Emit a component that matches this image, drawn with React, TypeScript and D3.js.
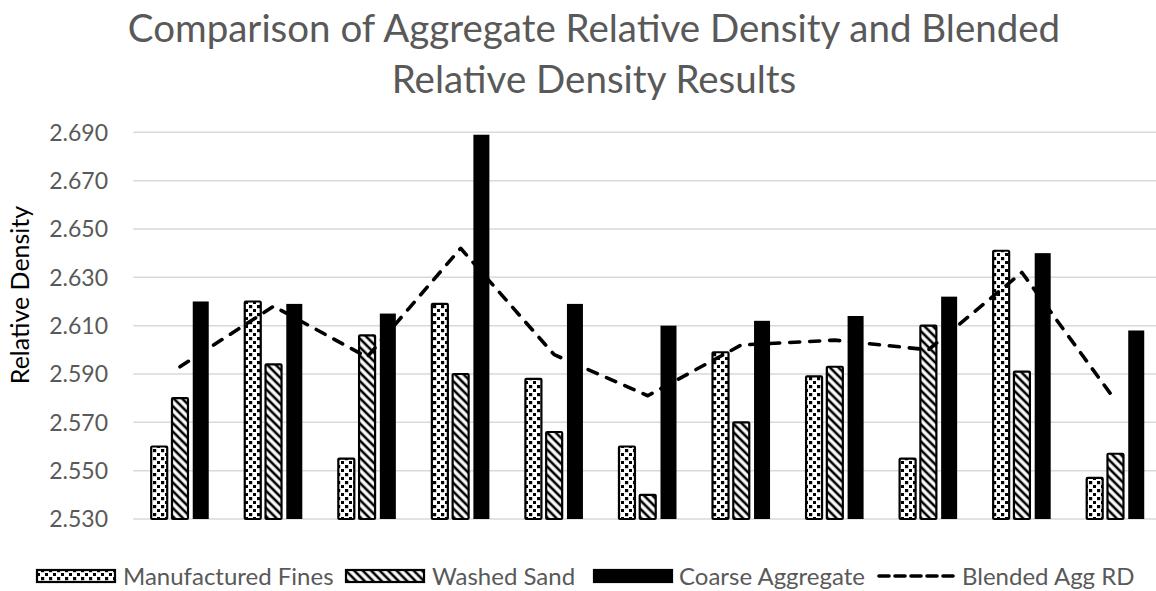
import React from "react";
import * as d3 from "d3";

const categories = ["1", "2", "3", "4", "5", "6", "7", "8", "9", "10", "11"];
const manufacturedFines = [2.560, 2.620, 2.555, 2.619, 2.588, 2.560, 2.599, 2.589, 2.555, 2.641, 2.547];
const washedSand = [2.580, 2.594, 2.606, 2.590, 2.566, 2.540, 2.570, 2.593, 2.610, 2.591, 2.557];
const coarseAggregate = [2.620, 2.619, 2.615, 2.689, 2.619, 2.610, 2.612, 2.614, 2.622, 2.640, 2.608];
const blendedAggRD = [2.593, 2.618, 2.597, 2.642, 2.598, 2.581, 2.602, 2.604, 2.600, 2.632, 2.579];
const yTicks = [2.53, 2.55, 2.57, 2.59, 2.61, 2.63, 2.65, 2.67, 2.69];
const seriesNames = ["Manufactured Fines", "Washed Sand", "Coarse Aggregate", "Blended Agg RD"];

const W = 1156;
const H = 591;
const FONT = "Lato, 'Open Sans', sans-serif";
const GRAY = "#595959";

export default function App() {
  const plotLeft = 133.2;
  const band = 93.55;
  const x = d3.scaleBand<string>().domain(categories).range([plotLeft, plotLeft + band * categories.length]).padding(0);
  const y = d3.scaleLinear().domain([2.53, 2.69]).range([519, 132.3]);
  const bw = x.bandwidth();
  const step = bw * 0.222;
  const barW = bw * 0.171;
  const cx = (c: string) => (x(c) as number) + bw / 2;

  const barSeries = [
    { vals: manufacturedFines, fill: "url(#patMF)", stroke: "#000" },
    { vals: washedSand, fill: "url(#patWS)", stroke: "#000" },
    { vals: coarseAggregate, fill: "#000", stroke: "none" },
  ];

  const line = d3
    .line<number>()
    .x((_, i) => cx(categories[i]))
    .y((d) => y(d));

  const fmt = d3.format(".3f");

  const legendItems = [
    { sx: 37, tx: 123, kind: "mf" },
    { sx: 346, tx: 432, kind: "ws" },
    { sx: 594, tx: 679, kind: "ca" },
    { sx: 877, tx: 962, kind: "line" },
  ];

  return (
    <svg
      width={W}
      height={H}
      style={{ position: "absolute", left: 0, top: 0, background: "#fff" }}
      fontFamily={FONT}
    >
      <defs>
        <pattern id="patMF" patternUnits="userSpaceOnUse" width="8" height="8">
          <rect width="8" height="8" fill="#fff" />
          <rect x="1" y="1" width="3.2" height="3.2" fill="#000" />
          <rect x="5" y="5" width="3.2" height="3.2" fill="#000" />
        </pattern>
        <pattern id="patWS" patternUnits="userSpaceOnUse" width="6" height="6" patternTransform="rotate(-45)">
          <rect width="6" height="6" fill="#fff" />
          <line x1="3" y1="0" x2="3" y2="6" stroke="#000" strokeWidth="2.6" />
        </pattern>
      </defs>
      <rect width={W} height={H} fill="#fff" />

      {/* Title */}
      <text x={594} y={42} textAnchor="middle" fontSize={38.5} fill={GRAY}>
        Comparison of Aggregate Relative Density and Blended
      </text>
      <text x={594} y={93} textAnchor="middle" fontSize={38.5} fill={GRAY}>
        Relative Density Results
      </text>

      {/* Gridlines */}
      {yTicks.map((t) => (
        <line key={"g" + t} x1={plotLeft} x2={W} y1={y(t)} y2={y(t)} stroke="#d9d9d9" strokeWidth={1.5} />
      ))}
      {/* Tick labels */}
      {yTicks.map((t) => (
        <text key={"t" + t} x={108} y={y(t)} dy="0.36em" textAnchor="end" fontSize={23} fill={GRAY}>
          {fmt(t)}
        </text>
      ))}
      {/* Axis title */}
      <text
        transform={`translate(29,295) rotate(-90)`}
        textAnchor="middle"
        fontSize={25}
        fill="#000"
      >
        Relative Density
      </text>

      {/* Bars */}
      {barSeries.map((s, si) =>
        s.vals.map((v, i) => {
          const c = categories[i];
          const bx = cx(c) + (si - 1) * step - barW / 2;
          return (
            <rect
              key={`b${si}-${i}`}
              x={bx}
              y={y(v)}
              width={barW}
              height={y(2.53) - y(v)}
              fill={s.fill}
              stroke={s.stroke}
              strokeWidth={s.stroke === "none" ? 0 : 2.2}
              rx={s.stroke === "none" ? 0 : 1}
            />
          );
        })
      )}

      {/* Blended line */}
      <path
        d={line(blendedAggRD) || ""}
        fill="none"
        stroke="#000"
        strokeWidth={3.6}
        strokeDasharray="10 10"
        strokeLinecap="round"
        strokeLinejoin="round"
      />

      {/* Legend */}
      {legendItems.map((it, i) => (
        <g key={"l" + i}>
          {it.kind === "line" ? (
            <line
              x1={it.sx + 2}
              x2={it.sx + 76}
              y1={576}
              y2={576}
              stroke="#000"
              strokeWidth={3.6}
              strokeDasharray="10 6"
              strokeLinecap="round"
            />
          ) : (
            <rect
              x={it.sx}
              y={570}
              width={78}
              height={12}
              fill={it.kind === "mf" ? "url(#patMF)" : it.kind === "ws" ? "url(#patWS)" : "#000"}
              stroke="#000"
              strokeWidth={2.2}
            />
          )}
          <text x={it.tx} y={576} dy="0.36em" fontSize={24} fill={GRAY}>
            {seriesNames[i]}
          </text>
        </g>
      ))}
    </svg>
  );
}
